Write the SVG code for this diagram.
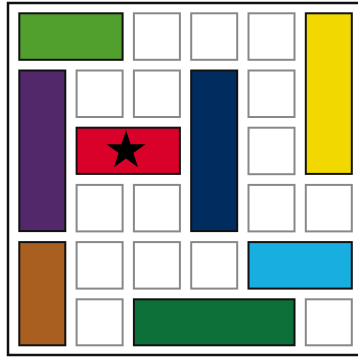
<svg xmlns="http://www.w3.org/2000/svg" width="358" height="360" viewBox="0 0 358 360">
<style>
.cell{fill:#fff;stroke:#888;stroke-width:2}
.car{stroke:#111;stroke-width:2}
</style>
<rect x="0" y="0" width="358" height="360" fill="#fff"/>
<rect x="8" y="3" width="360" height="352" fill="none" stroke="#111" stroke-width="2.5"/>
<g id="board">
<g id="c-0-2"><rect class="cell" x="133.9" y="13.3" width="46" height="46.5"/></g>
<g id="c-0-3"><rect class="cell" x="191.2" y="13.3" width="46" height="46.5"/></g>
<g id="c-0-4"><rect class="cell" x="248.5" y="13.3" width="46" height="46.5"/></g>
<g id="c-1-1"><rect class="cell" x="76.6" y="70.5" width="46" height="46.5"/></g>
<g id="c-1-2"><rect class="cell" x="133.9" y="70.5" width="46" height="46.5"/></g>
<g id="c-1-4"><rect class="cell" x="248.5" y="70.5" width="46" height="46.5"/></g>
<g id="c-2-4"><rect class="cell" x="248.5" y="127.7" width="46" height="46.5"/></g>
<g id="c-3-1"><rect class="cell" x="76.6" y="184.9" width="46" height="46.5"/></g>
<g id="c-3-2"><rect class="cell" x="133.9" y="184.9" width="46" height="46.5"/></g>
<g id="c-3-4"><rect class="cell" x="248.5" y="184.9" width="46" height="46.5"/></g>
<g id="c-3-5"><rect class="cell" x="305.8" y="184.9" width="46" height="46.5"/></g>
<g id="c-4-1"><rect class="cell" x="76.6" y="242.1" width="46" height="46.5"/></g>
<g id="c-4-2"><rect class="cell" x="133.9" y="242.1" width="46" height="46.5"/></g>
<g id="c-4-3"><rect class="cell" x="191.2" y="242.1" width="46" height="46.5"/></g>
<g id="c-5-1"><rect class="cell" x="76.6" y="299.3" width="46" height="46"/></g>
<g id="c-5-5"><rect class="cell" x="305.8" y="299.3" width="46" height="46"/></g>
</g>
<g id="cars">
<g id="green"><rect class="car" fill="#519f2d" x="19.3" y="13.3" width="103.3" height="46.5"/></g>
<g id="yellow"><rect class="car" fill="#f0d800" x="305.8" y="13.3" width="46" height="160.6"/></g>
<g id="purple"><rect class="car" fill="#52286b" x="19.3" y="70.5" width="46" height="160.6"/></g>
<g id="navy"><rect class="car" fill="#002c5f" x="191.2" y="70.5" width="46" height="160.6"/></g>
<g id="red"><rect class="car" fill="#d9002a" x="76.6" y="127.7" width="103.3" height="46.2"/>
<polygon fill="#000" points="126,130 130.6,144.2 145.5,144.2 133.4,153 138,167.2 126,158.4 114,167.2 118.6,153 106.5,144.2 121.4,144.2"/></g>
<g id="brown"><rect class="car" fill="#a85f1f" x="19.3" y="242.1" width="46" height="103.2"/></g>
<g id="cyan"><rect class="car" fill="#18afe0" x="248.5" y="242.1" width="103.3" height="46.5"/></g>
<g id="darkgreen"><rect class="car" fill="#0e7039" x="133.9" y="299.3" width="160.6" height="46"/></g>
</g>
</svg>
